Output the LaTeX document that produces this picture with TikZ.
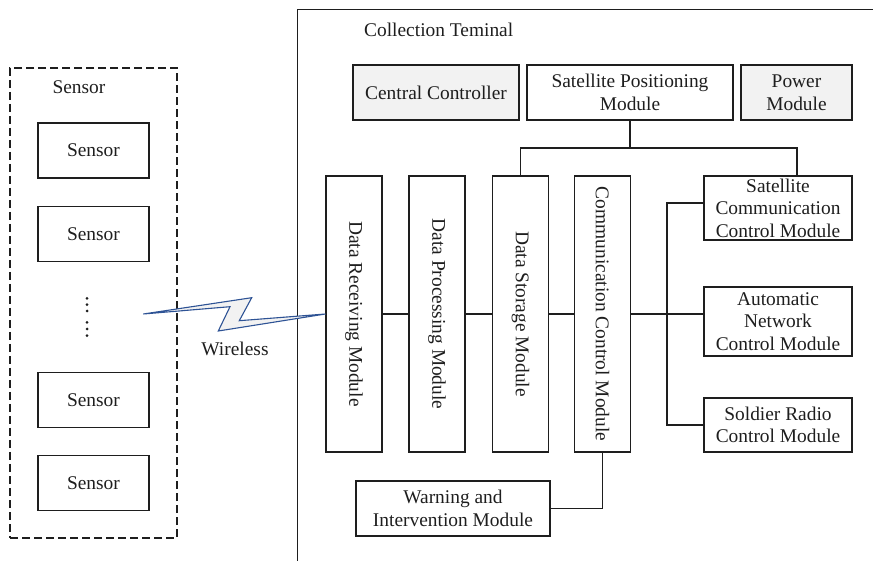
\documentclass[tikz,border=0pt]{standalone}
\usepackage{fontspec}
\setmainfont{Liberation Serif}
\definecolor{panel}{HTML}{F2F2F2}
\definecolor{ink}{HTML}{1E1E1E}
\definecolor{bolt}{HTML}{2E5395}
\begin{document}
\begin{tikzpicture}[x=1pt,y=-1pt,
  every node/.style={font=\fontsize{19.4}{22.5}\selectfont, text=ink},
  box/.style={draw=ink, line width=1.1pt, inner sep=0pt, align=center},
  shaded/.style={box, fill=panel},
  column/.style={box, minimum width=56pt, minimum height=276pt},
  link/.style={draw=ink, line width=1.1pt},
  groupframe/.style={draw=ink, line width=1.1pt, dash pattern=on 8pt off 4pt, inner sep=0pt}]

\useasboundingbox (0,0) rectangle (873,561);
\clip (0,0) rectangle (873,561);

% sensor group
\node[groupframe, minimum width=167pt, minimum height=470pt] (group) at (93.5,303) {};
\node (grouplabel) at (79,87) {Sensor};
\node[box, minimum width=111pt, minimum height=55pt] (s1) at (93.5,150.5) {Sensor};
\node[box, minimum width=111pt, minimum height=55pt] (s2) at (93.5,234) {Sensor};
\node[box, minimum width=111pt, minimum height=55pt] (s3) at (93.5,400) {Sensor};
\node[box, minimum width=111pt, minimum height=55pt] (s4) at (93.5,483) {Sensor};
\foreach \y in {298.3,304.7,311,322.3,329,335.7}
  \fill[ink] (87,\y) circle (1.5pt);

% collection terminal frame
\draw[ink, line width=1pt] (297,570) -- (297,9.5) -- (880,9.5);
\node[anchor=west, inner sep=0pt] (title) at (364,30) {Collection Teminal};

% top row
\node[shaded, minimum width=166pt, minimum height=55pt] (cc) at (436,92.5) {Central Controller};
\node[box, minimum width=206pt, minimum height=55pt] (sp) at (630,92.5) {Satellite Positioning\\Module};
\node[shaded, minimum width=111pt, minimum height=55pt] (pw) at (796.5,92.5) {Power\\Module};

% vertical modules
\node[column, label={[rotate=-90, text=ink]center:Data Receiving Module}] (dr) at (354,314) {};
\node[column, label={[rotate=-90, text=ink]center:Data Processing Module}] (dp) at (437,314) {};
\node[column, label={[rotate=-90, text=ink]center:Data Storage Module}] (ds) at (520.5,314) {};
\node[column, label={[rotate=-90, text=ink]center:Communication Control Module}] (cm) at (602.5,314) {};

% right-hand modules
\node[box, minimum width=148pt, minimum height=64pt] (sc) at (778,208) {Satellite\\Communication\\Control Module};
\node[box, minimum width=148pt, minimum height=69pt] (an) at (778,321.5) {Automatic\\Network\\Control Module};
\node[box, minimum width=148pt, minimum height=54pt] (sr) at (778,425) {Soldier Radio\\Control Module};

% warning module
\node[box, minimum width=194pt, minimum height=55pt] (wi) at (453,508.5) {Warning and\\Intervention Module};

% connectors
\coordinate (spj) at (630,148);
\coordinate (tr) at (797,148);
\draw[link] (sp.south) -- (spj);
\draw[link] (ds.north) |- (tr) -- (tr |- sc.north);
\draw[link] (dr.east) -- (dp.west);
\draw[link] (dp.east) -- (ds.west);
\draw[link] (ds.east) -- (cm.west);
\draw[link] (cm.east) -- (cm.east -| an.west);
\coordinate (bustop) at (667,203);
\coordinate (busbot) at (667,425);
\draw[link] (sc.west |- bustop) -- (bustop) -- (busbot) -- (sr.west);
\draw[link] (wi.east) -| (cm.south);

% wireless link
\coordinate (wfree) at (143.3,314);
\draw[bolt, fill=panel, line width=1.1pt, line join=miter]
  (wfree) -- (251.7,297.7) -- (239.3,320.7) -- (dr.west) -- (218.3,331) -- (230,306.7) -- cycle;
\node (wlabel) at (235,349) {Wireless};
\end{tikzpicture}
\end{document}
